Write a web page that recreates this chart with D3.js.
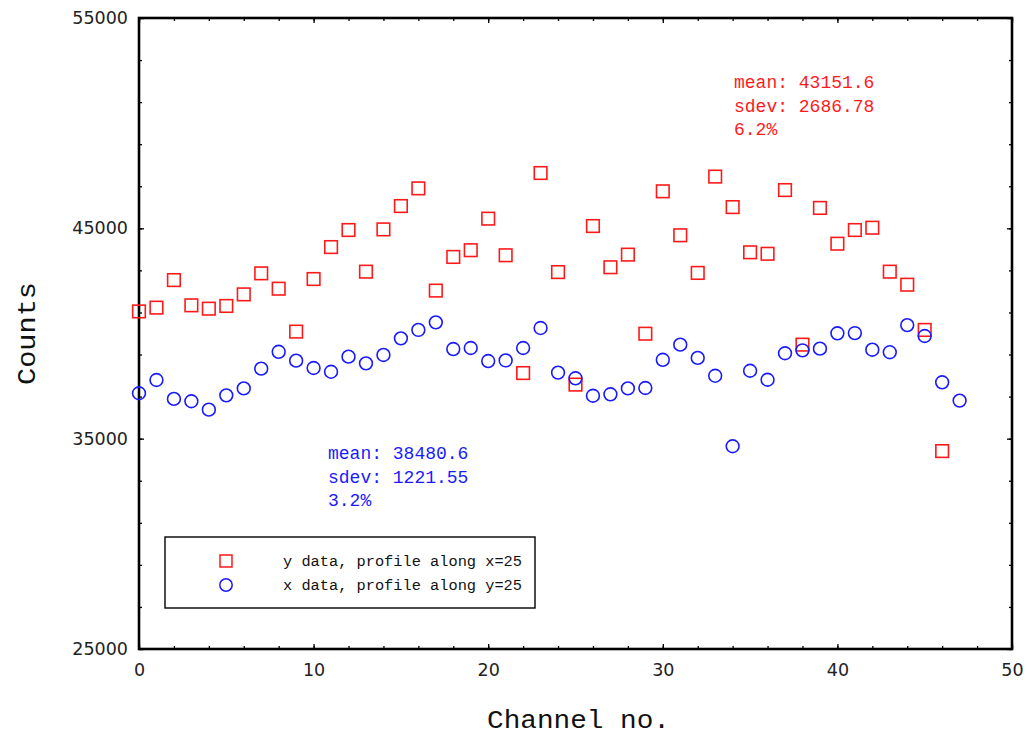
<!DOCTYPE html>
<html>
<head>
<meta charset="utf-8">
<script src="https://cdn.jsdelivr.net/npm/d3@7"></script>
<style>
  body { margin: 0; background: #fff; }
  svg { display: block; }
  .tick text { font-family: "DejaVu Sans", sans-serif; font-size: 17.5px; fill: #222; }
  .mono { font-family: "Liberation Mono", monospace; }
</style>
</head>
<body>
<svg id="chart" width="1027" height="737"></svg>
<script>

// y data, profile along x=25 (channels 0..46)
const yProfile = [
	41050, 41230, 42540, 41340, 41180, 41310, 41860, 42860, 42130, 40090,
	42590, 44110, 44920, 42940, 44950, 46060, 46900, 42040, 43640, 43960,
	45460, 43720, 38120, 47630, 42920, 37570, 45110, 43150, 43750, 39990,
	46760, 44670, 42880, 47460, 46010, 43860, 43790, 46820, 39470, 45970,
	44270, 44920, 45030, 42940, 42320, 40170, 34410
]

// x data, profile along y=25 (channels 0..47)
const xProfile = [
	37160, 37790, 36890, 36780, 36380, 37060, 37390, 38330, 39130, 38710,
	38360, 38180, 38900, 38580, 38980, 39770, 40170, 40530, 39260, 39310,
	38690, 38720, 39310, 40260, 38140, 37870, 37040, 37110, 37390, 37410,
	38750, 39470, 38840, 37990, 34640, 38230, 37800, 39060, 39200, 39280,
	40010, 40020, 39230, 39110, 40400, 39880, 37680, 36810
]

const xTicks = [0, 10, 20, 30, 40, 50]
const yTicks = [25000, 35000, 45000, 55000]

const seriesNames = ['y data, profile along x=25', 'x data, profile along y=25']
const redStats = ['mean: 43151.6', 'sdev: 2686.78', '6.2%']
const blueStats = ['mean: 38480.6', 'sdev: 1221.55', '3.2%']

const red = '#ff1a1a'
const blue = '#1a1aff'

const pLeft = 139, pRight = 1012, pTop = 18, pBottom = 649

const svg = d3.select('#chart')

const x = d3.scaleLinear().domain([0, 50]).range([pLeft, pRight])
const y = d3.scaleLinear().domain([25000, 55000]).range([pBottom, pTop])

const minorX = d3.range(0, 51, 2)
const minorY = d3.range(25000, 55001, 2000)

// bottom axis
svg.append('g')
	.attr('transform', `translate(0,${pBottom})`)
	.call(d3.axisBottom(x).tickValues(minorX).tickSize(-3).tickFormat(''))
svg.append('g')
	.attr('transform', `translate(0,${pBottom})`)
	.call(d3.axisBottom(x).tickValues(xTicks).tickSize(-5).tickPadding(15).tickFormat(d3.format('d')))

// top axis
svg.append('g')
	.attr('transform', `translate(0,${pTop})`)
	.call(d3.axisTop(x).tickValues(minorX).tickSize(-3).tickFormat(''))
svg.append('g')
	.attr('transform', `translate(0,${pTop})`)
	.call(d3.axisTop(x).tickValues(xTicks).tickSize(-5).tickFormat(''))

// left axis
svg.append('g')
	.attr('transform', `translate(${pLeft},0)`)
	.call(d3.axisLeft(y).tickValues(minorY).tickSize(-3).tickFormat(''))
svg.append('g')
	.attr('transform', `translate(${pLeft},0)`)
	.call(d3.axisLeft(y).tickValues(yTicks).tickSize(-5).tickPadding(11).tickFormat(d3.format('d')))

// right axis
svg.append('g')
	.attr('transform', `translate(${pRight},0)`)
	.call(d3.axisRight(y).tickValues(minorY).tickSize(-3).tickFormat(''))
svg.append('g')
	.attr('transform', `translate(${pRight},0)`)
	.call(d3.axisRight(y).tickValues(yTicks).tickSize(-5).tickFormat(''))

svg.selectAll('.domain').remove()
svg.selectAll('.tick line').attr('stroke', '#000').attr('stroke-width', 1.3)

// frame
svg.append('rect')
	.attr('x', pLeft).attr('y', pTop)
	.attr('width', pRight - pLeft).attr('height', pBottom - pTop)
	.attr('fill', 'none').attr('stroke', '#000').attr('stroke-width', 2.6)

// markers
svg.append('g')
	.selectAll('rect')
	.data(yProfile)
	.enter()
	.append('rect')
	.attr('x', (d, i) => x(i) - 6.3)
	.attr('y', d => y(d) - 6.3)
	.attr('width', 12.6).attr('height', 12.6)
	.attr('fill', 'none').attr('stroke', red).attr('stroke-width', 1.6)

svg.append('g')
	.selectAll('circle')
	.data(xProfile)
	.enter()
	.append('circle')
	.attr('cx', (d, i) => x(i))
	.attr('cy', d => y(d))
	.attr('r', 6.4)
	.attr('fill', 'none').attr('stroke', blue).attr('stroke-width', 1.6)

// stats annotations
const annot = (lines, px, py, color) => {
	svg.append('g')
		.selectAll('text')
		.data(lines)
		.enter()
		.append('text')
		.attr('class', 'mono')
		.attr('x', px)
		.attr('y', (d, i) => py + i * 23.5)
		.attr('font-size', 18)
		.attr('fill', color)
		.text(d => d)
}
annot(redStats, 734, 88, red)
annot(blueStats, 328, 459, blue)

// legend
const lg = svg.append('g')
lg.append('rect')
	.attr('x', 165).attr('y', 537)
	.attr('width', 370).attr('height', 71)
	.attr('fill', '#fff').attr('stroke', '#000').attr('stroke-width', 1.4)
lg.append('rect')
	.attr('x', 220).attr('y', 555)
	.attr('width', 12).attr('height', 12)
	.attr('fill', 'none').attr('stroke', red).attr('stroke-width', 1.5)
lg.append('circle')
	.attr('cx', 226).attr('cy', 585).attr('r', 6.2)
	.attr('fill', 'none').attr('stroke', blue).attr('stroke-width', 1.5)
lg.selectAll('text.lbl')
	.data(seriesNames)
	.enter()
	.append('text')
	.attr('class', 'mono lbl')
	.attr('x', 283)
	.attr('y', (d, i) => 566 + i * 24)
	.attr('font-size', 15.5)
	.attr('textLength', 239)
	.attr('lengthAdjust', 'spacingAndGlyphs')
	.attr('fill', '#111')
	.text(d => d)

// axis titles
svg.append('text')
	.attr('class', 'mono')
	.attr('x', 487).attr('y', 728)
	.attr('font-size', 26)
	.attr('textLength', 183)
	.attr('lengthAdjust', 'spacingAndGlyphs')
	.attr('fill', '#111')
	.text('Channel no.')

svg.append('text')
	.attr('class', 'mono')
	.attr('transform', 'translate(35,385) rotate(-90)')
	.attr('font-size', 26)
	.attr('textLength', 103)
	.attr('lengthAdjust', 'spacingAndGlyphs')
	.attr('fill', '#111')
	.text('Counts')

</script>
</body>
</html>
